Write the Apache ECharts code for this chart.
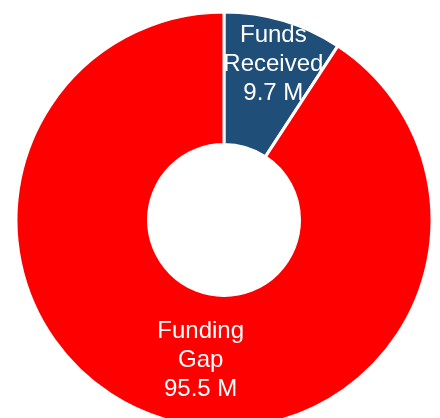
<!DOCTYPE html>
<html>
<head>
<meta charset="utf-8">
<script src="https://cdn.jsdelivr.net/npm/echarts@6/dist/echarts.min.js"></script>
<style>
html,body{margin:0;padding:0;background:#fff;}
#chart{width:440px;height:418px;}
</style>
</head>
<body>
<div id="chart"></div>
<script>
const categories = ['Funds Received', 'Funding Gap'];
const values = [9.7, 95.5];
const units = 'M';
const colors = ['#1F4E79', '#FF0000'];
const labelShift = [[8, -17], [18, 2]];

const chart = echarts.init(document.getElementById('chart'), null, {renderer: 'canvas'});
const data = categories.map((c, i) => ({
  name: c,
  value: values[i],
  itemStyle: {color: colors[i]}
}));

chart.setOption({
  animation: false,
  backgroundColor: '#ffffff',
  series: [{
    type: 'pie',
    center: [224, 220],
    radius: [75.5, 208],
    startAngle: 90,
    clockwise: true,
    avoidLabelOverlap: false,
    itemStyle: {borderColor: '#ffffff', borderWidth: 3},
    label: {
      show: true,
      position: 'inside',
      color: '#ffffff',
      fontFamily: 'Liberation Sans, Arial, sans-serif',
      fontSize: 24,
      lineHeight: 29,
      align: 'center',
      formatter: p => p.name.replace(' ', '\n') + '\n' + p.value + ' ' + units
    },
    labelLine: {show: false},
    labelLayout: p => ({dx: labelShift[p.dataIndex][0], dy: labelShift[p.dataIndex][1]}),
    emphasis: {disabled: true},
    data: data
  }]
});
</script>
</body>
</html>
